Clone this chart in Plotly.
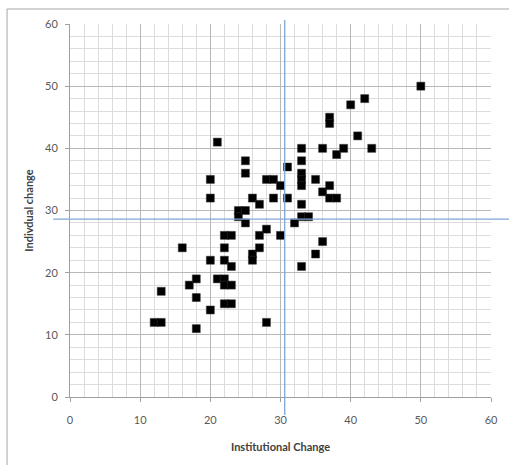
import plotly.graph_objects as go

# Data
institutional = [12, 13, 13, 16, 17, 18, 18, 18, 20, 20, 20, 20, 21, 21,
                 22, 22, 22, 22, 22, 22, 23, 23, 23, 23, 24, 24, 25, 25, 25, 25,
                 26, 26, 26, 27, 27, 27, 28, 28, 28, 29, 29, 30, 30, 31, 31, 32,
                 33, 33, 33, 33, 33, 33, 33, 33, 34, 35, 35, 36, 36, 36,
                 37, 37, 37, 37, 38, 38, 39, 40, 41, 42, 43, 50]
individual = [12, 12, 17, 24, 18, 19, 16, 11, 22, 14, 35, 32, 41, 19,
              19, 18, 15, 22, 24, 26, 26, 21, 18, 15, 30, 29, 30, 28, 36, 38,
              32, 23, 22, 31, 26, 24, 35, 27, 12, 35, 32, 34, 26, 37, 32, 28,
              40, 38, 36, 35, 34, 31, 29, 21, 29, 35, 23, 40, 33, 25,
              45, 44, 34, 32, 39, 32, 40, 47, 42, 48, 40, 50]

mean_institutional = 30.6
mean_individual = 28.6

x_ticks = [0, 10, 20, 30, 40, 50, 60]
y_ticks = [0, 10, 20, 30, 40, 50, 60]

tick_font = dict(family="Lato, Carlito, 'Liberation Sans', sans-serif", size=11, color="#595959")
title_font = dict(family="Lato, Carlito, 'Liberation Sans', sans-serif", size=11, color="#404040")

fig = go.Figure()
fig.add_trace(go.Scatter(
    x=institutional, y=individual, mode="markers",
    marker=dict(symbol="square", size=8, color="#000000",
                line=dict(color="#333333", width=0.5)),
    showlegend=False, cliponaxis=False,
))

blue = "#7ea6d6"
fig.add_shape(type="line", xref="x", yref="paper",
              x0=mean_institutional, x1=mean_institutional, y0=-0.048, y1=1.011,
              line=dict(color=blue, width=1.3), layer="above")
fig.add_shape(type="line", xref="paper", yref="y",
              x0=-0.04, x1=1.05, y0=mean_individual, y1=mean_individual,
              line=dict(color=blue, width=1.3), layer="above")

# outer chart border (top and left visible)
fig.add_shape(type="line", xref="paper", yref="paper", x0=-0.1495, x1=1.1, y0=1.0402, y1=1.0402,
              line=dict(color="#a6a6a6", width=1))
fig.add_shape(type="line", xref="paper", yref="paper", x0=-0.1495, x1=-0.1495, y0=-0.2, y1=1.0402,
              line=dict(color="#a6a6a6", width=1))

axis_common = dict(
    showgrid=True, gridcolor="#b8b8b8", gridwidth=1,
    zeroline=False, showline=True, linecolor="#a0a0a0", linewidth=1,
    ticks="outside", ticklen=4, tickcolor="#a0a0a0",
    tickfont=tick_font, automargin=False,
    minor=dict(dtick=2, showgrid=True, gridcolor="#dcdcdc", gridwidth=1, ticks=""),
)

fig.update_xaxes(range=[0, 60], tickvals=x_ticks, ticklabelstandoff=9,
                 title=dict(text="<b>Institutional Change</b>", font=title_font, standoff=18),
                 **axis_common)
fig.update_yaxes(range=[0, 60], tickvals=y_ticks, ticklabelstandoff=5,
                 title=dict(text="<b>Indivdual change</b>", font=title_font, standoff=9),
                 **axis_common)

fig.update_layout(
    width=509, height=465,
    margin=dict(l=70, r=18, t=24, b=68, autoexpand=False),
    paper_bgcolor="white", plot_bgcolor="white",
)

fig.write_html("out.html", config={"displayModeBar": False},
               post_script="document.body.style.margin='0';document.body.style.overflow='hidden';")
